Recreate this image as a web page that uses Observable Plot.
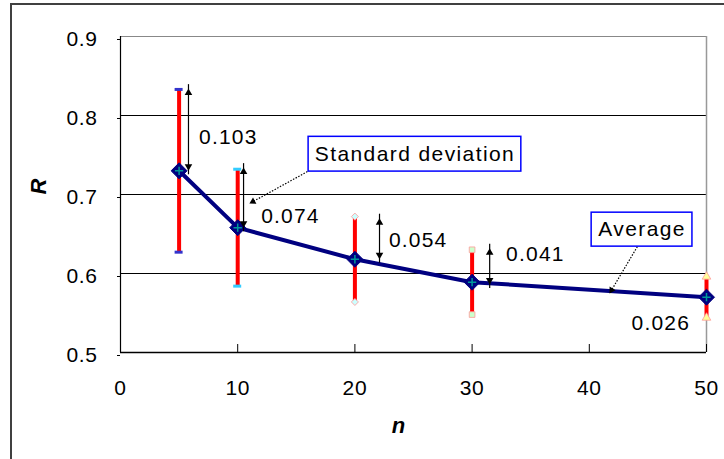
<!DOCTYPE html>
<html>
<head>
<meta charset="utf-8">
<script src="https://cdn.jsdelivr.net/npm/d3@7"></script>
<script src="https://cdn.jsdelivr.net/npm/@observablehq/plot@0.6"></script>
<style>
  body { margin: 0; background: #fff; }
  #wrap { position: relative; width: 724px; height: 459px; overflow: hidden; }
  #frame { position: absolute; left: 10px; top: 3px; width: 800px; height: 500px;
           border-left: 2px solid #404040; border-top: 2px solid #404040; pointer-events: none; }
  .sdlab text { letter-spacing: 1.2px; }
  .callout text { letter-spacing: 1.4px; }
  .tickl text { letter-spacing: 0.6px; }
</style>
</head>
<body>
<div id="wrap"><div id="frame"></div></div>
<script>
// ---- data ----
const nValues = [5, 10, 20, 30, 50];
const meanR   = [0.730, 0.658, 0.618, 0.589, 0.570];
const sdR     = [0.103, 0.074, 0.054, 0.041, 0.026];
const xTicks  = [0, 10, 20, 30, 40, 50];
const yTicks  = [0.5, 0.6, 0.7, 0.8, 0.9];

// annotation anchors (data units)
const sdLabelX  = [9.2, 14.5, 25.4, 35.4, 46.1];
const sdLabelY  = [0.772, 0.673, 0.642, 0.624, 0.537];
const arrowX    = [5.8, 10.5, 22.1, 31.5];
const arrowLow  = [0.730, 0.658, 0.618, 0.586];
const arrowHigh = [0.834, 0.734, 0.670, 0.632];

const calloutText = ["Standard deviation", "Average"];
const calloutX1 = [16.05, 40.2], calloutX2 = [34.2, 48.8];
const calloutY1 = [0.729, 0.634], calloutY2 = [0.773, 0.677];
const leaderX1 = [15.95, 44.1], leaderY1 = [0.729, 0.634];
const leaderX2 = [11.3, 41.9],  leaderY2 = [0.691, 0.579];

// styles for cap markers (one per series)
const capColor  = ["#3333cc", "#33ccff", "#ccffff", "#ccffcc", "#ffff99"];
const capSymbol = ["dash", "dash", "diamond2", "square", "triangle"];

const pts = nValues.map((n, i) => ({n, mean: meanR[i], sd: sdR[i], lo: meanR[i] - sdR[i], hi: meanR[i] + sdR[i], color: capColor[i], sym: capSymbol[i]}));
const labels = sdR.map((s, i) => ({x: sdLabelX[i], y: sdLabelY[i], t: s.toFixed(3)}));
const arrows = arrowX.map((x, i) => ({x, lo: arrowLow[i], hi: arrowHigh[i]}));
const callouts = calloutText.map((t, i) => ({t, x1: calloutX1[i], x2: calloutX2[i], y1: calloutY1[i], y2: calloutY2[i]}));
const leaders = leaderX1.map((x, i) => ({x1: x, y1: leaderY1[i], x2: leaderX2[i], y2: leaderY2[i]}));

const font = "'Liberation Sans', Arial, sans-serif";
const dashCaps = pts.filter(d => d.sym === "dash");
const symCaps = pts.filter(d => d.sym !== "dash");
const capEnds = symCaps.flatMap(d => [{n: d.n, y: d.hi, color: d.color, sym: d.sym}, {n: d.n, y: d.lo, color: d.color, sym: d.sym}]);

const chart = Plot.plot({
  width: 724, height: 459,
  marginLeft: 120, marginRight: 18, marginTop: 36, marginBottom: 107,
  style: {fontFamily: font, fontSize: "21px", color: "#000", background: "transparent", overflow: "visible"},
  x: {domain: [0, 50]},
  y: {domain: [0.5, 0.9]},
  marks: [
    // gridlines & plot-area borders
    Plot.ruleY([0.6, 0.7, 0.8], {stroke: "#000", strokeWidth: 1}),
    Plot.ruleY([0.9], {stroke: "#888", strokeWidth: 1.2}),
    Plot.ruleX([50], {stroke: "#999", strokeWidth: 1.5}),
    Plot.ruleX([0], {stroke: "#000", strokeWidth: 1.2}),
    Plot.ruleY([0.5], {stroke: "#000", strokeWidth: 1.5}),
    // inward x ticks
    Plot.ruleX(xTicks.slice(1), {x: d => d, y1: 0.5, y2: 0.5, insetTop: -8, stroke: "#000", strokeWidth: 1}),
    Plot.axisX(xTicks, {tickSize: 0, tickPadding: 28, tickFormat: d => String(d), fontSize: 21, label: null, className: "tickl"}),
    Plot.axisY(yTicks, {tickSize: 3, tickPadding: 20, tickFormat: d => d.toFixed(1), fontSize: 21, dy: 3, label: null, className: "tickl"}),
    // axis titles
    Plot.text(["n"], {frameAnchor: "bottom", dy: 80, dx: -15, text: d => d, fontSize: 22, fontStyle: "italic", fontWeight: "bold"}),
    Plot.text(["R"], {frameAnchor: "left", dx: -82, rotate: -90, text: d => d, fontSize: 22, fontStyle: "italic", fontWeight: "bold"}),
    // error bars
    Plot.ruleX(pts, {x: "n", y1: "lo", y2: "hi", stroke: "#ff0000", strokeWidth: 4}),
    Plot.ruleY(dashCaps.flatMap(d => [{n: d.n, y: d.hi, color: d.color}, {n: d.n, y: d.lo, color: d.color}]),
      {y: "y", x1: "n", x2: "n", insetLeft: -4, insetRight: -4, stroke: "color", strokeWidth: 3}),
    Plot.dot(capEnds, {x: "n", y: "y", symbol: "sym", fill: "color", r: 3.2, stroke: "#ff9999", strokeWidth: 0.8}),
    // mean line and markers
    Plot.line(pts, {x: "n", y: "mean", stroke: "#000080", strokeWidth: 4}),
    Plot.dot(pts, {x: "n", y: "mean", symbol: "diamond2", r: 7.2, fill: "#000080", stroke: "#000080", strokeWidth: 1}),
    Plot.dot(pts, {x: "n", y: "mean", symbol: "plus", r: 2.8, stroke: "#009999", strokeWidth: 1.5}),
    // double-headed sd arrows
    Plot.ruleX(arrows, {x: "x", y1: "lo", y2: "hi", stroke: "#000", strokeWidth: 1.2, insetTop: 4, insetBottom: 4}),
    Plot.dot(arrows, {x: "x", y: "hi", symbol: "triangle", r: 2.8, fill: "#000", dy: 4.3}),
    Plot.dot(arrows, {x: "x", y: "lo", symbol: "triangle", r: 2.8, fill: "#000", rotate: 180, dy: -4.3}),
    // sd labels
    Plot.text(labels, {x: "x", y: "y", text: "t", fontSize: 21, fill: "#000", className: "sdlab"}),
    // callouts
    Plot.link(leaders, {x1: "x1", y1: "y1", x2: "x2", y2: "y2", stroke: "#000", strokeWidth: 1.2, strokeDasharray: "1.5,1.5"}),
    Plot.dot(leaders, {x: "x2", y: "y2", symbol: "triangle", r: 2.6, fill: "#000",
      rotate: d => { const dx = (d.x2 - d.x1) * 11.72, dy = -(d.y2 - d.y1) * 790; return Math.atan2(dx, -dy) * 180 / Math.PI; }}),
    Plot.rect(callouts, {x1: "x1", x2: "x2", y1: "y1", y2: "y2", fill: "#fff", stroke: "#0000ff", strokeWidth: 1.5}),
    Plot.text(callouts, {x: d => (d.x1 + d.x2) / 2, y: d => (d.y1 + d.y2) / 2, text: "t", fontSize: 21, fill: "#000", className: "callout"})
  ]
});
document.getElementById("wrap").prepend(chart);
</script>
</body>
</html>
